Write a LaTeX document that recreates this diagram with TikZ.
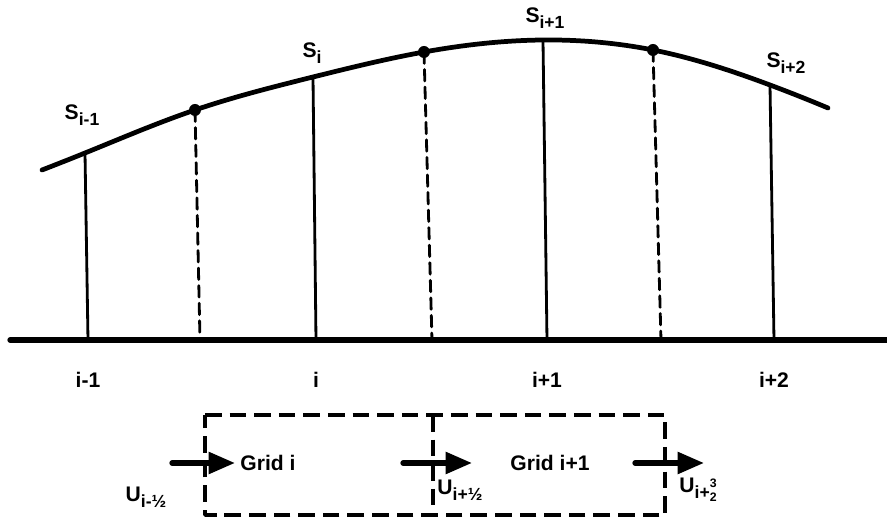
\documentclass[tikz,border=0pt]{standalone}
\usepackage{amsmath}
\usepackage{fontspec}
\setmainfont{Liberation Sans}
\usepackage{tikz}
\usetikzlibrary{calc,arrows.meta,hobby}

\newcommand{\lowsub}[1]{\raisebox{-0.55ex}{\fontsize{10}{12}\selectfont #1}}
\newcommand{\stk}[2]{\raisebox{-0.3ex}{\fontsize{7}{7.5}\selectfont\shortstack{#1\\#2}}}

\begin{document}
\begin{tikzpicture}[x=0.02cm, y=-0.02cm, line join=round, line cap=round,
  font=\bfseries\fontsize{12}{14}\selectfont,
  grid line/.style={line width=1.6pt},
  half line/.style={line width=1.6pt, dash pattern=on 6.5pt off 3.5pt},
  cell box/.style={line width=2.1pt, dash pattern=on 9.5pt off 4.5pt, line cap=butt},
  flux/.style={line width=3pt, -{Triangle[length=15pt,width=12pt]}},
  lbl/.style={inner sep=0pt}]
\useasboundingbox (0,0) rectangle (887,523);
% curve points
\coordinate (C0) at (42,170);
\coordinate (T1) at (85,153);
\coordinate (H1) at (195,110);
\coordinate (T2) at (313,77);
\coordinate (H2) at (424,52);
\coordinate (T3) at (543,40);
\coordinate (H3) at (653,50);
\coordinate (T4) at (770,85);
\coordinate (C9) at (828,108);
% base points
\coordinate (L) at (10,340);
\coordinate (R) at (887,340);
\coordinate (B1) at (88,340);
\coordinate (G1) at (200,340);
\coordinate (B2) at (316,340);
\coordinate (G2) at (432,340);
\coordinate (B3) at (547,340);
\coordinate (G3) at (661,340);
\coordinate (B4) at (774,340);
% surface and base line
\draw[line width=2.7pt, use Hobby shortcut] (C0) .. (T1) .. (H1) .. (T2) .. (H2) .. (T3) .. (H3) .. (T4) .. (C9);
\draw[line width=3pt] (L) -- (R);
\foreach \t/\b in {T1/B1,T2/B2,T3/B3,T4/B4}
  \draw[grid line] (\t) -- (\b);
\foreach \h/\g in {H1/G1,H2/G2,H3/G3} {
  \draw[half line] (\h) -- (\g);
  \fill (\h) circle (0.12cm);
}
% labels
\node[lbl] (s1) at (82,115) {S\lowsub{i-1}};
\node[lbl] (s2) at (312,53) {S\lowsub{i}};
\node[lbl] (s3) at (545,18) {S\lowsub{i+1}};
\node[lbl] (s4) at (786,63) {S\lowsub{i+2}};
\node[lbl] (n1) at (88,380) {i-1};
\node[lbl] (n2) at (316,380) {i};
\node[lbl] (n3) at (547,380) {i+1};
\node[lbl] (n4) at (774,380) {i+2};
% grid cells
\coordinate (P1) at (205,415);
\coordinate (P2) at (433,415);
\coordinate (P3) at (665,415);
\coordinate (Q1) at (205,515);
\coordinate (Q2) at (433,515);
\coordinate (Q3) at (665,515);
\draw[cell box] (P1) -- (P3) -- (Q3) -- (Q1) -- cycle;
\draw[cell box] (P2) -- (Q2);
\node[lbl] (g1) at (268,463) {Grid i};
\node[lbl] (g2) at (550,463) {Grid i+1};
% fluxes
\coordinate (A1) at (172,463);
\coordinate (E1) at (235,463);
\coordinate (A2) at (403,463);
\coordinate (E2) at (472,463);
\coordinate (A3) at (635,463);
\coordinate (E3) at (704,463);
\draw[flux] (A1) -- (E1);
\draw[flux] (A2) -- (E2);
\draw[flux] (A3) -- (E3);
\node[lbl] (u1) at (146,497) {U\lowsub{i-½}};
\node[lbl] (u2) at (460,490) {U\lowsub{i+½}};
\node[lbl] (u3) at (698,490) {U\lowsub{i+\stk{3}{2}}};
\end{tikzpicture}
\end{document}
